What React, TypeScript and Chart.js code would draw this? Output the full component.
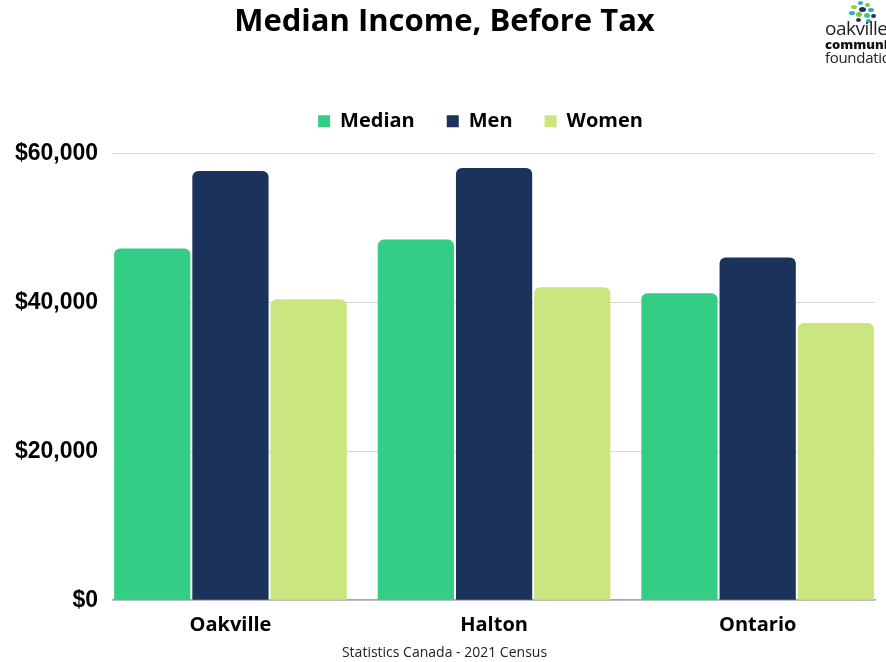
import React, { useEffect, useRef } from "react";
import { Chart, registerables } from "chart.js";

Chart.register(...registerables);

const categories = ["Oakville", "Halton", "Ontario"];
const medianValues = [47200, 48400, 41200];
const menValues = [57600, 58000, 46000];
const womenValues = [40400, 42000, 37200];
const yTicks = [0, 20000, 40000, 60000];

const COLORS = { median: "#33CD85", men: "#1B335A", women: "#CBE67F" };

function toPoints(vals: number[]) {
  return vals.map((v, i) => ({ x: i, y: v }));
}

const boxShift = {
  id: "boxShift",
  afterLayout(chart: any) {
    const shift = (box: any, dx: number) => {
      if (box) {
        box.left += dx;
        box.right += dx;
      }
    };
    shift(chart.legend, 43);
    shift(chart.titleBlock, 7);
    const sub = chart.boxes.find((b: any) => b !== chart.titleBlock && b.constructor && b.constructor.name === "Title" && b.options && b.options.position === "bottom");
    shift(sub, 7);
  },
};

export default function App() {
  const ref = useRef<HTMLCanvasElement | null>(null);

  useEffect(() => {
    document.body.style.margin = "0";
    const ctx = ref.current;
    if (!ctx) return;
    const radius = { topLeft: 6, topRight: 6, bottomLeft: 0, bottomRight: 0 };
    const common = {
      xAxisID: "x",
      yAxisID: "y",
      categoryPercentage: 0.89,
      barPercentage: 0.975,
      borderRadius: radius,
      borderSkipped: "bottom" as const,
    };
    const chart = new Chart(ctx, {
      type: "bar",
      data: {
        datasets: [
          { label: "Median", data: toPoints(medianValues), backgroundColor: COLORS.median, ...common },
          { label: "Men", data: toPoints(menValues), backgroundColor: COLORS.men, ...common },
          { label: "Women", data: toPoints(womenValues), backgroundColor: COLORS.women, ...common },
        ],
      },
      plugins: [boxShift],
      options: {
        animation: false,
        responsive: false,
        layout: { padding: { left: 0, right: 11, top: 0, bottom: 0 } },
        plugins: {
          title: {
            display: true,
            text: "Median Income, Before Tax",
            color: "#000",
            font: { family: "Open Sans", size: 31, weight: "bold" },
            padding: { top: 4, bottom: 38 },
          },
          subtitle: {
            display: true,
            position: "bottom",
            text: "Statistics Canada - 2021 Census",
            color: "#222",
            font: { family: "Open Sans", size: 14, weight: "normal" },
            padding: { top: 2, bottom: 1 },
          },
          legend: {
            display: true,
            position: "top",
            labels: {
              boxWidth: 12,
              boxHeight: 12,
              padding: 32,
              color: "#000",
              font: { family: "Open Sans", size: 20, weight: "bold" },
            },
          },
          tooltip: { enabled: false },
        },
        scales: {
          x: {
            type: "linear",
            min: -0.445,
            max: 2.445,
            offset: false,
            afterBuildTicks: (axis: any) => {
              axis.ticks = categories.map((_, i) => ({ value: i }));
            },
            ticks: {
              callback: (v: any) => categories[Number(v)] ?? "",
              color: "#000",
              font: { family: "Open Sans", size: 20, weight: "bold" },
              padding: 5,
              autoSkip: false,
              maxRotation: 0,
            },
            grid: { display: false },
            border: { display: true, color: "#a8a8a8", width: 1.5 },
          },
          spacer: {
            type: "linear",
            position: "top",
            axis: "x",
            display: true,
            ticks: { display: false },
            grid: { display: false, drawTicks: false },
            border: { display: false },
            title: { display: true, text: " ", font: { size: 1, lineHeight: 1 }, padding: { top: 11, bottom: 0 } },
          },
          y: {
            min: 0,
            max: 60000,
            afterBuildTicks: (axis: any) => {
              axis.ticks = yTicks.map((v) => ({ value: v }));
            },
            ticks: {
              callback: (v: any) => "$" + Number(v).toLocaleString("en-US"),
              color: "#000",
              font: { family: "Liberation Sans", size: 23, weight: "bold" },
              padding: 15,
            },
            grid: { color: "#d6d6d6", lineWidth: 1, drawTicks: false },
            border: { display: false },
          },
        },
      },
    });
    return () => chart.destroy();
  }, []);

  const dots = [
    { x: 858, y: 1, w: 5, h: 4, c: "#2fa8c9" },
    { x: 865, y: 3, w: 5, h: 4, c: "#7cc242" },
    { x: 851, y: 5, w: 6, h: 4, c: "#9acd3c" },
    { x: 859, y: 7, w: 7, h: 5, c: "#1b335a" },
    { x: 868, y: 8, w: 6, h: 4, c: "#2fa8c9" },
    { x: 849, y: 11, w: 6, h: 4, c: "#2fa8c9" },
    { x: 856, y: 12, w: 6, h: 5, c: "#7cc242" },
    { x: 864, y: 13, w: 6, h: 5, c: "#33cd85" },
    { x: 871, y: 14, w: 5, h: 4, c: "#1b335a" },
    { x: 856, y: 18, w: 5, h: 4, c: "#1b335a" },
    { x: 866, y: 19, w: 5, h: 4, c: "#2fa8c9" },
  ];

  return (
    <div style={{ position: "fixed", left: 0, top: 0, width: 886, height: 662, overflow: "hidden", background: "#fff" }}>
      <canvas ref={ref} width={886} height={662} style={{ display: "block" }} />
      <div style={{ position: "absolute", left: 0, top: 0, width: 886, height: 70, pointerEvents: "none" }}>
        {dots.map((d, i) => (
          <div key={i} style={{ position: "absolute", left: d.x, top: d.y, width: d.w, height: d.h, borderRadius: "50%", background: d.c }} />
        ))}
        <div style={{ position: "absolute", left: 825, top: 19, fontFamily: "Open Sans", fontSize: 19, lineHeight: "19px", color: "#222", letterSpacing: -0.5, whiteSpace: "nowrap" }}>oakville</div>
        <div style={{ position: "absolute", left: 825, top: 38, fontFamily: "Open Sans", fontWeight: 800, fontSize: 13, lineHeight: "13px", color: "#111", whiteSpace: "nowrap" }}>community</div>
        <div style={{ position: "absolute", left: 825, top: 50, fontFamily: "Open Sans", fontSize: 15, lineHeight: "15px", color: "#222", letterSpacing: -0.3, whiteSpace: "nowrap" }}>foundation</div>
      </div>
    </div>
  );
}
